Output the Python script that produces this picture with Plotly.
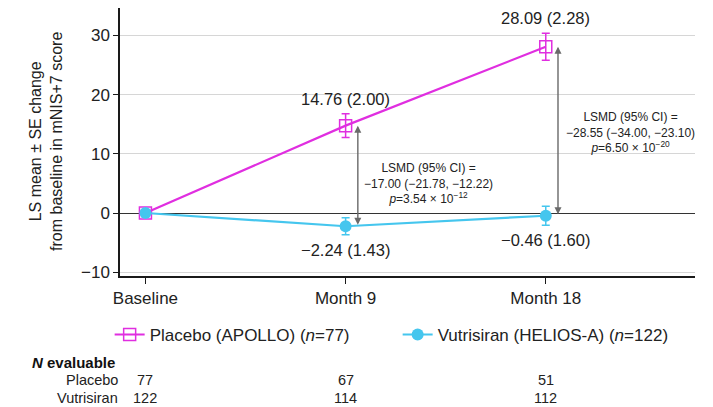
import plotly.graph_objects as go

# ---- data ----
visits = ["Baseline", "Month 9", "Month 18"]
visit_month = [0, 9, 18]
placebo_mean = [0.0, 14.76, 28.09]
placebo_se = [0.0, 2.00, 2.28]
vutrisiran_mean = [0.0, -2.24, -0.46]
vutrisiran_se = [0.0, 1.43, 1.60]
n_placebo = [77, 67, 51]
n_vutrisiran = [122, 114, 112]
lsmd_text = [
    "LSMD (95% CI) =<br>\u221217.00 (\u221221.78, \u221212.22)<br><i>p</i>=3.54 \u00d7 10<sup>\u221212</sup>",
    "LSMD (95% CI) =<br>\u221228.55 (\u221234.00, \u221223.10)<br><i>p</i>=6.50 \u00d7 10<sup>\u221220</sup>",
]
y_ticks = [-10, 0, 10, 20, 30]

MAG = "#e02ee0"
CYAN = "#45c6ee"
FONT = "Liberation Sans, Arial, sans-serif"
TXT = "#222222"


def fmt(v):
    s = f"{abs(v):.2f}"
    return ("\u2212" + s) if v < 0 else s


fig = go.Figure()
fig.add_trace(go.Scatter(
    x=visit_month, y=placebo_mean, mode="lines+markers",
    name="Placebo (APOLLO) (<i>n</i>=77)",
    line=dict(color=MAG, width=2.2),
    marker=dict(symbol="square-open", size=12, color=MAG, line=dict(width=1.5, color=MAG)),
    error_y=dict(type="data", array=placebo_se, visible=True, color=MAG, thickness=1.5, width=4),
))
fig.add_trace(go.Scatter(
    x=visit_month, y=vutrisiran_mean, mode="lines+markers",
    name="Vutrisiran (HELIOS-A) (<i>n</i>=122)",
    line=dict(color=CYAN, width=2.2),
    marker=dict(symbol="circle", size=12, color=CYAN),
    error_y=dict(type="data", array=vutrisiran_se, visible=True, color=CYAN, thickness=1.5, width=4),
))

ann = []
# value labels
for i in (1, 2):
    ann.append(dict(x=visit_month[i], y=placebo_mean[i] + placebo_se[i], xref="x", yref="y",
                    text=f"{fmt(placebo_mean[i])} ({placebo_se[i]:.2f})", showarrow=False,
                    yanchor="bottom", yshift=4, font=dict(size=16.5, color=TXT, family=FONT)))
    ann.append(dict(x=visit_month[i], y=vutrisiran_mean[i] - vutrisiran_se[i], xref="x", yref="y",
                    text=f"{fmt(vutrisiran_mean[i])} ({vutrisiran_se[i]:.2f})", showarrow=False,
                    yanchor="top", yshift=-4, font=dict(size=16.5, color=TXT, family=FONT)))
    # double-headed difference arrows
    ann.append(dict(x=visit_month[i] + 0.55, y=placebo_mean[i], ax=visit_month[i] + 0.55,
                    ay=vutrisiran_mean[i], xref="x", yref="y", axref="x", ayref="y",
                    text="", showarrow=True, arrowhead=2, startarrowhead=2, arrowside="end+start",
                    arrowsize=1, arrowwidth=1.4, arrowcolor="#6a6a6a", standoff=0, startstandoff=0))

# LSMD text blocks
ann.append(dict(x=0.5357, y=0.347, xref="paper", yref="paper", text=lsmd_text[0], showarrow=False,
                xanchor="center", yanchor="middle", align="center",
                font=dict(size=12, color=TXT, family=FONT)))
ann.append(dict(x=0.887, y=0.537, xref="paper", yref="paper", text=lsmd_text[1], showarrow=False,
                xanchor="center", yanchor="middle", align="center",
                font=dict(size=12, color=TXT, family=FONT)))

# y axis title
ann.append(dict(x=-0.1287, y=0.504, xref="paper", yref="paper",
                text="LS mean \u00b1 SE change<br>from baseline in mNIS+7 score",
                textangle=-90, showarrow=False, xanchor="center", yanchor="middle",
                font=dict(size=16, color=TXT, family=FONT)))

# N evaluable table
ann.append(dict(x=-0.005, y=-0.321, xref="paper", yref="paper", text="<b><i>N</i> evaluable</b>",
                showarrow=False, xanchor="right", yanchor="middle",
                font=dict(size=15, color="#111111", family=FONT)))
ann.append(dict(x=0.0, y=-0.388, xref="paper", yref="paper", text="Placebo",
                showarrow=False, xanchor="right", yanchor="middle",
                font=dict(size=14.5, color=TXT, family=FONT)))
ann.append(dict(x=0.0, y=-0.455, xref="paper", yref="paper", text="Vutrisiran",
                showarrow=False, xanchor="right", yanchor="middle",
                font=dict(size=14.5, color=TXT, family=FONT)))
for i in range(3):
    ann.append(dict(x=visit_month[i], y=-0.388, xref="x", yref="paper", text=str(n_placebo[i]),
                    showarrow=False, xanchor="center", yanchor="middle",
                    font=dict(size=14.5, color=TXT, family=FONT)))
    ann.append(dict(x=visit_month[i], y=-0.455, xref="x", yref="paper", text=str(n_vutrisiran[i]),
                    showarrow=False, xanchor="center", yanchor="middle",
                    font=dict(size=14.5, color=TXT, family=FONT)))

fig.update_layout(
    width=713, height=407,
    margin=dict(l=120, r=18, t=8, b=131),
    paper_bgcolor="white", plot_bgcolor="white",
    font=dict(family=FONT, color=TXT),
    showlegend=True,
    legend=dict(orientation="h", x=-0.018, xanchor="left", y=-0.22, yanchor="middle",
                font=dict(size=17, color=TXT, family=FONT),
                entrywidth=243, entrywidthmode="pixels", bgcolor="rgba(0,0,0,0)"),
    annotations=ann,
)
fig.update_xaxes(
    range=[-1.144, 24.71], tickvals=visit_month, ticktext=visits,
    showline=True, linecolor="#1a1a1a", linewidth=1.5,
    ticks="outside", ticklen=6, tickcolor="#1a1a1a", tickwidth=1.3,
    showgrid=False, zeroline=False,
    tickfont=dict(size=17, color=TXT, family=FONT),
)
fig.update_yaxes(
    range=[-10.64, 34.63], tickvals=y_ticks,
    showline=True, linecolor="#1a1a1a", linewidth=1.5,
    ticks="outside", ticklen=5, tickcolor="#1a1a1a", tickwidth=1.3,
    showgrid=True, gridcolor="#d6d6d6", gridwidth=1,
    zeroline=True, zerolinecolor="#333333", zerolinewidth=1.2,
    tickfont=dict(size=17, color=TXT, family=FONT),
)

fig.write_html("out.html")
